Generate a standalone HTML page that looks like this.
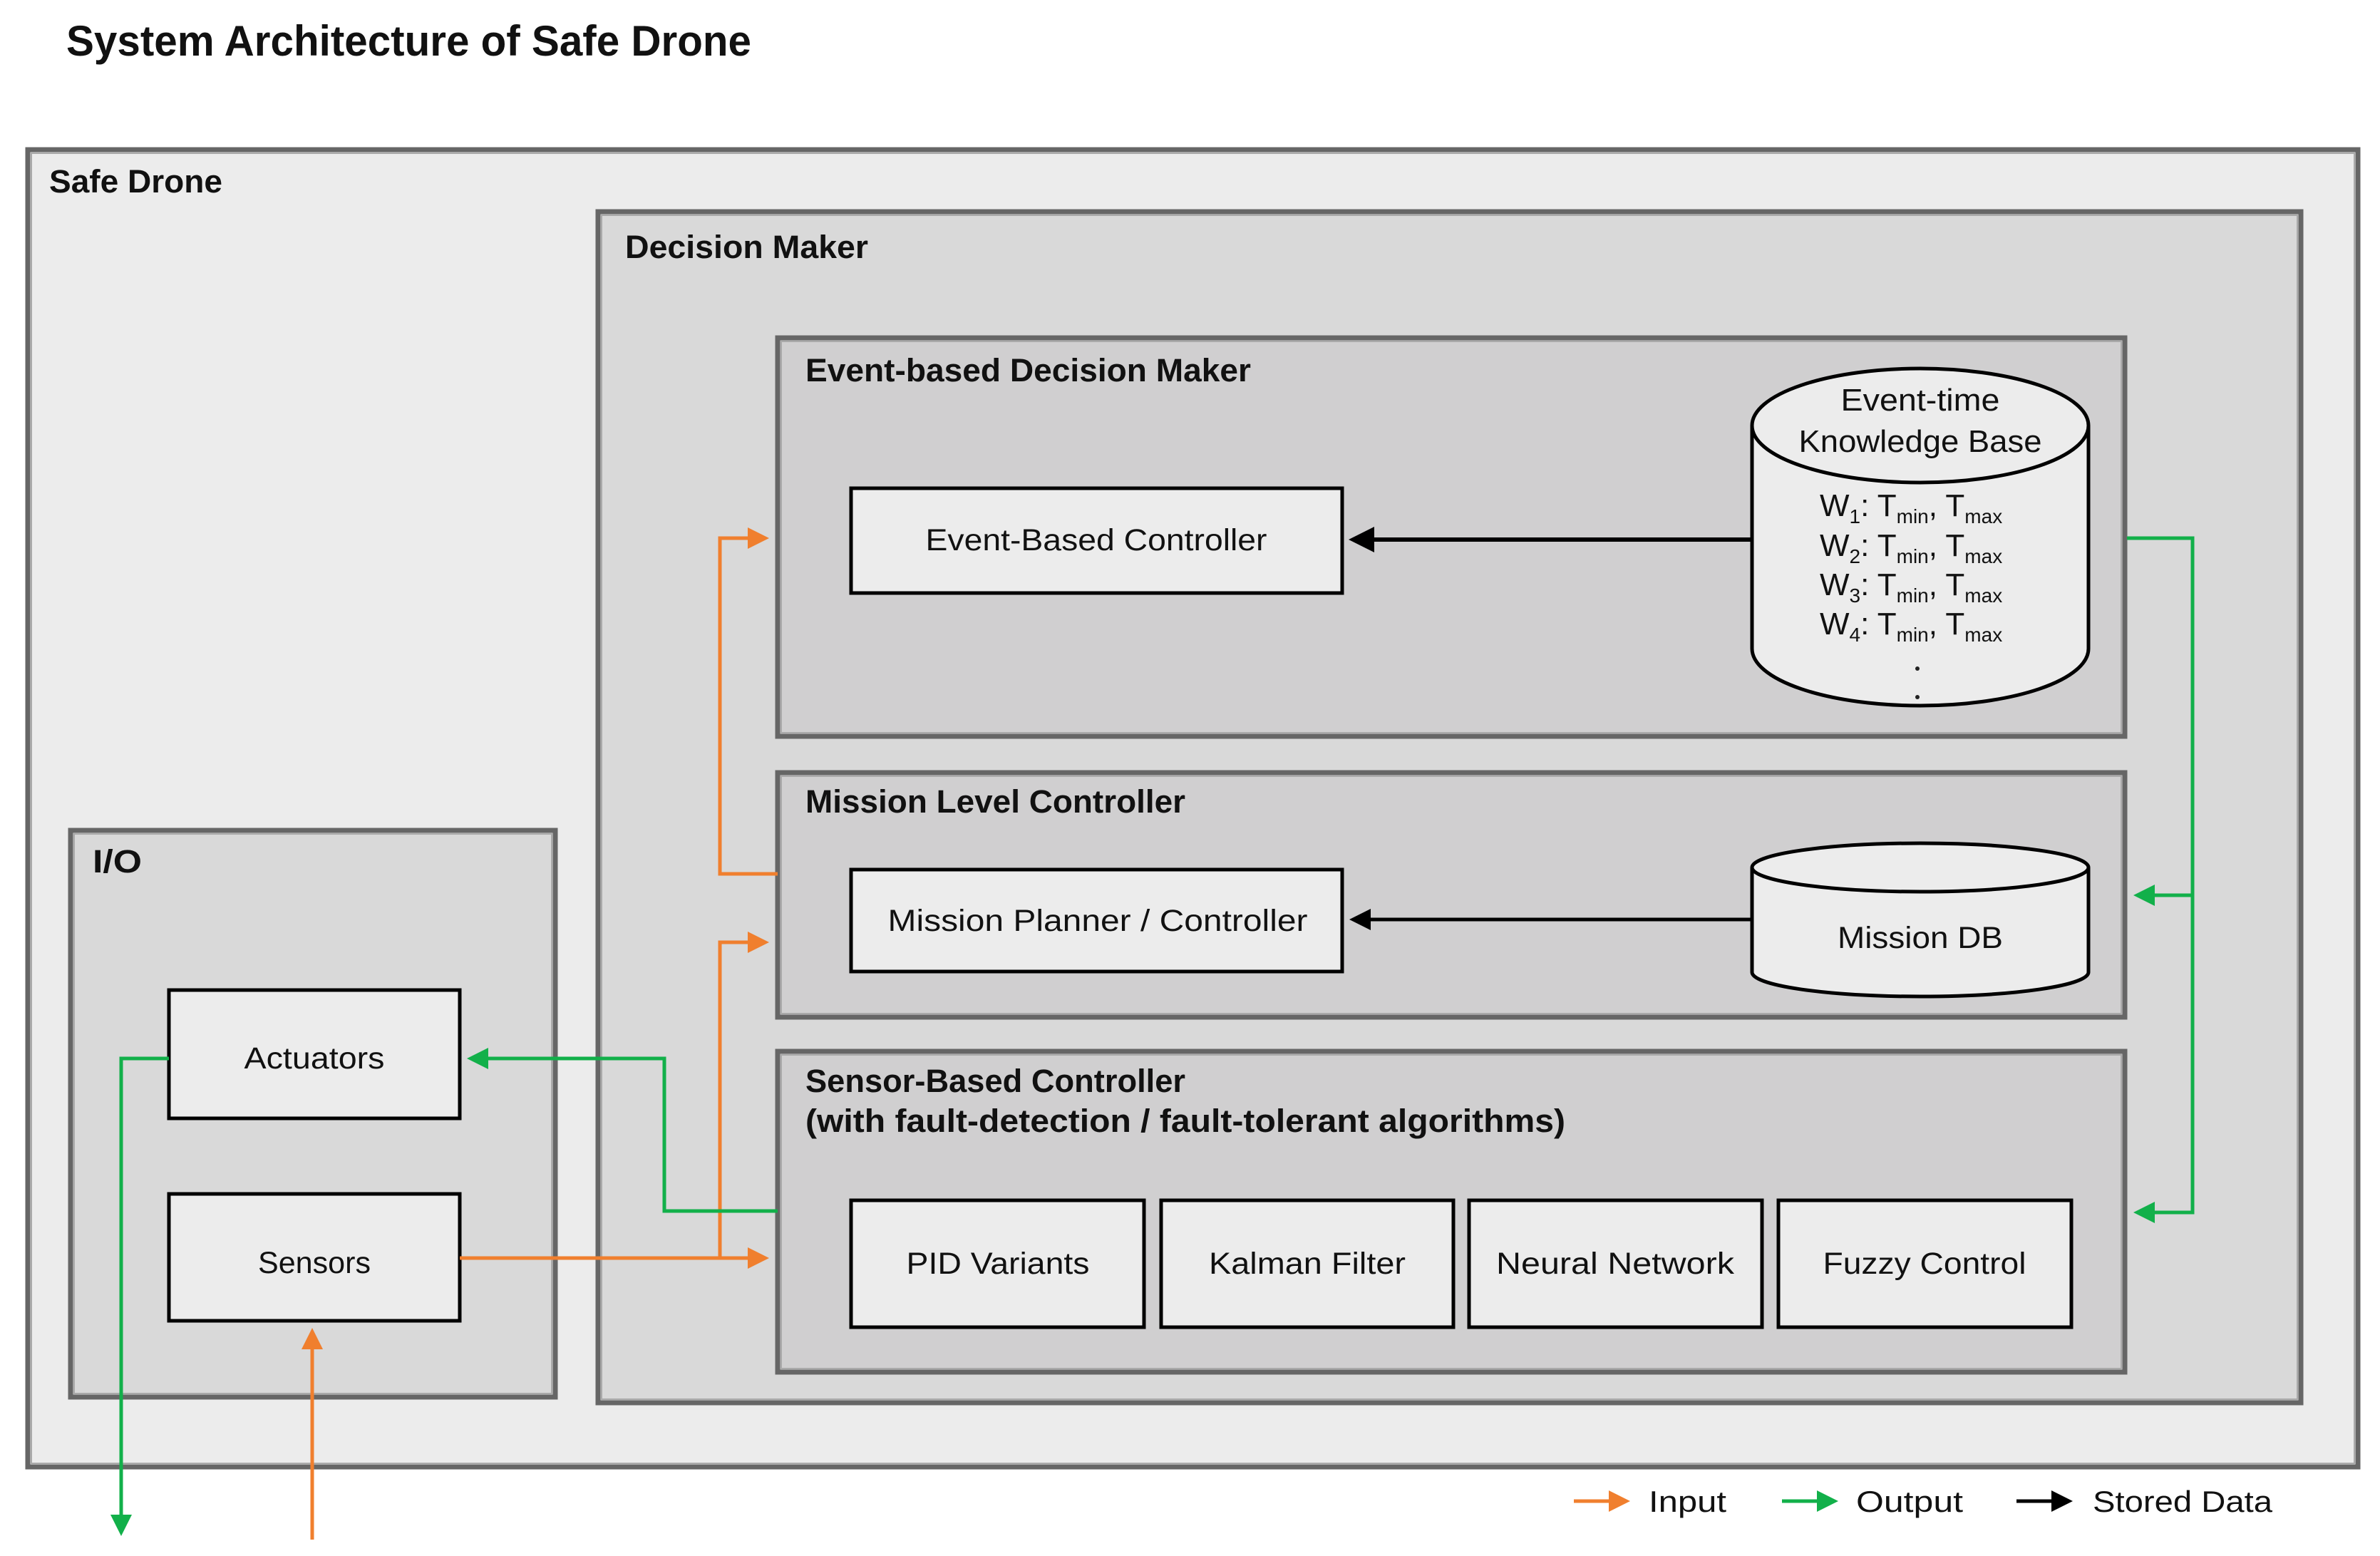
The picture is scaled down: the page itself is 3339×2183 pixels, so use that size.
<!DOCTYPE html>
<html><head><meta charset="utf-8"><style>
html,body{margin:0;padding:0;background:#fff}
svg{display:block}
text{font-family:"Liberation Sans",sans-serif;fill:#111}
.b{font-weight:bold}
</style></head><body>
<svg width="3339" height="2183" viewBox="0 0 3339 2183" xmlns="http://www.w3.org/2000/svg">
<defs>
<marker id="ao" markerWidth="6" markerHeight="6" refX="5" refY="3" orient="auto" markerUnits="strokeWidth"><path d="M0,0 L6,3 L0,6 z" fill="#f07f2e"/></marker>
<marker id="ag" markerWidth="6" markerHeight="6" refX="5" refY="3" orient="auto" markerUnits="strokeWidth"><path d="M0,0 L6,3 L0,6 z" fill="#12b04a"/></marker>
<marker id="ak" markerWidth="6" markerHeight="6" refX="5" refY="3" orient="auto" markerUnits="strokeWidth"><path d="M0,0 L6,3 L0,6 z" fill="#000"/></marker>
</defs>
<text x="93" y="78" font-size="60" class="b" textLength="961" lengthAdjust="spacingAndGlyphs">System Architecture of Safe Drone</text>

<rect x="39" y="210" width="3269" height="1848" fill="#ececec" stroke="#666" stroke-width="7"/>
<rect x="44" y="215" width="3259" height="1838" fill="none" stroke="#aaa" stroke-width="2"/>
<text x="69" y="270" font-size="45" class="b" textLength="243" lengthAdjust="spacingAndGlyphs">Safe Drone</text>

<rect x="839" y="297" width="2389" height="1671" fill="#d9d9d9" stroke="#666" stroke-width="7"/>
<rect x="844" y="302" width="2379" height="1661" fill="none" stroke="#aaa" stroke-width="2"/>
<text x="877" y="362" font-size="45" class="b" textLength="341" lengthAdjust="spacingAndGlyphs">Decision Maker</text>

<rect x="99" y="1165" width="680" height="795" fill="#d9d9d9" stroke="#666" stroke-width="7"/>
<rect x="104" y="1170" width="670" height="785" fill="none" stroke="#aaa" stroke-width="2"/>
<text x="130" y="1224" font-size="45" class="b" textLength="69" lengthAdjust="spacingAndGlyphs">I/O</text>

<rect x="1091" y="474" width="1890" height="559" fill="#d0cfd0" stroke="#666" stroke-width="7"/>
<rect x="1096" y="479" width="1880" height="549" fill="none" stroke="#aaa" stroke-width="2"/>
<text x="1130" y="535" font-size="45" class="b" textLength="625" lengthAdjust="spacingAndGlyphs">Event-based Decision Maker</text>

<rect x="1091" y="1084" width="1890" height="343" fill="#d0cfd0" stroke="#666" stroke-width="7"/>
<rect x="1096" y="1089" width="1880" height="333" fill="none" stroke="#aaa" stroke-width="2"/>
<text x="1130" y="1140" font-size="45" class="b" textLength="533" lengthAdjust="spacingAndGlyphs">Mission Level Controller</text>

<rect x="1091" y="1475" width="1890" height="450" fill="#d0cfd0" stroke="#666" stroke-width="7"/>
<rect x="1096" y="1480" width="1880" height="440" fill="none" stroke="#aaa" stroke-width="2"/>
<text x="1130" y="1532" font-size="45" class="b" textLength="533" lengthAdjust="spacingAndGlyphs">Sensor-Based Controller</text>
<text x="1130" y="1588" font-size="45" class="b" textLength="1066" lengthAdjust="spacingAndGlyphs">(with fault-detection / fault-tolerant algorithms)</text>

<g fill="#ececec" stroke="#000" stroke-width="5">
<rect x="1194" y="685" width="689" height="147"/>
<rect x="1194" y="1220" width="689" height="143"/>
<rect x="1194" y="1684" width="411" height="178"/>
<rect x="1629" y="1684" width="410" height="178"/>
<rect x="2061" y="1684" width="411" height="178"/>
<rect x="2495" y="1684" width="411" height="178"/>
<rect x="237" y="1389" width="408" height="180"/>
<rect x="237" y="1675" width="408" height="178"/>
</g>
<g font-size="43" text-anchor="middle">
<text x="1538" y="772" textLength="479" lengthAdjust="spacingAndGlyphs">Event-Based Controller</text>
<text x="1540" y="1306" textLength="589" lengthAdjust="spacingAndGlyphs">Mission Planner / Controller</text>
<text x="1400" y="1787" textLength="257" lengthAdjust="spacingAndGlyphs">PID Variants</text>
<text x="1834" y="1787" textLength="276" lengthAdjust="spacingAndGlyphs">Kalman Filter</text>
<text x="2266" y="1787" textLength="334" lengthAdjust="spacingAndGlyphs">Neural Network</text>
<text x="2700" y="1787" textLength="285" lengthAdjust="spacingAndGlyphs">Fuzzy Control</text>
<text x="441" y="1499" textLength="197" lengthAdjust="spacingAndGlyphs">Actuators</text>
<text x="441" y="1786" textLength="158" lengthAdjust="spacingAndGlyphs">Sensors</text>
</g>

<path d="M2458,597 L2458,910 A236,80 0 0 0 2930,910 L2930,597" fill="#ececec" stroke="#000" stroke-width="5"/>
<ellipse cx="2694" cy="597" rx="236" ry="80" fill="#ececec" stroke="#000" stroke-width="5"/>
<g font-size="44" text-anchor="middle">
<text x="2694" y="576" textLength="223" lengthAdjust="spacingAndGlyphs">Event-time</text>
<text x="2694" y="634" textLength="341" lengthAdjust="spacingAndGlyphs">Knowledge Base</text>
</g>
<g font-size="44">
<text x="2553" y="724">W<tspan font-size="28" dy="10">1</tspan><tspan dy="-10">: T</tspan><tspan font-size="28" dy="10">min</tspan><tspan dy="-10">, T</tspan><tspan font-size="28" dy="10">max</tspan></text>
<text x="2553" y="780">W<tspan font-size="28" dy="10">2</tspan><tspan dy="-10">: T</tspan><tspan font-size="28" dy="10">min</tspan><tspan dy="-10">, T</tspan><tspan font-size="28" dy="10">max</tspan></text>
<text x="2553" y="835">W<tspan font-size="28" dy="10">3</tspan><tspan dy="-10">: T</tspan><tspan font-size="28" dy="10">min</tspan><tspan dy="-10">, T</tspan><tspan font-size="28" dy="10">max</tspan></text>
<text x="2553" y="890">W<tspan font-size="28" dy="10">4</tspan><tspan dy="-10">: T</tspan><tspan font-size="28" dy="10">min</tspan><tspan dy="-10">, T</tspan><tspan font-size="28" dy="10">max</tspan></text>
</g>
<circle cx="2690" cy="938" r="3" fill="#222"/>
<circle cx="2690" cy="978" r="3" fill="#222"/>

<path d="M2458,1217 L2458,1364 A236,34 0 0 0 2930,1364 L2930,1217" fill="#ececec" stroke="#000" stroke-width="5"/>
<ellipse cx="2694" cy="1217" rx="236" ry="34" fill="#ececec" stroke="#000" stroke-width="5"/>
<text x="2694" y="1330" font-size="43" text-anchor="middle" textLength="232" lengthAdjust="spacingAndGlyphs">Mission DB</text>

<line x1="2458" y1="757" x2="1898" y2="757" stroke="#000" stroke-width="6" marker-end="url(#ak)"/>
<line x1="2458" y1="1290" x2="1898" y2="1290" stroke="#000" stroke-width="5" marker-end="url(#ak)"/>

<g fill="none" stroke="#f07f2e" stroke-width="5">
<polyline points="645,1765 1074,1765" marker-end="url(#ao)"/>
<polyline points="1010,1765 1010,1322 1074,1322" marker-end="url(#ao)"/>
<polyline points="1091,1226 1010,1226 1010,755 1074,755" marker-end="url(#ao)"/>
<polyline points="438,2160 438,1868" marker-end="url(#ao)"/>
</g>
<g fill="none" stroke="#12b04a" stroke-width="5">
<polyline points="1091,1699 932,1699 932,1485 660,1485" marker-end="url(#ag)"/>
<polyline points="237,1485 170,1485 170,2150" marker-end="url(#ag)"/>
<polyline points="2984,755 3076,755 3076,1701 2998,1701" marker-end="url(#ag)"/>
<polyline points="3076,1256 2998,1256" marker-end="url(#ag)"/>
</g>

<line x1="2208" y1="2106" x2="2282" y2="2106" stroke="#f07f2e" stroke-width="5" marker-end="url(#ao)"/>
<text x="2313" y="2121" font-size="42" textLength="109" lengthAdjust="spacingAndGlyphs">Input</text>
<line x1="2500" y1="2106" x2="2574" y2="2106" stroke="#12b04a" stroke-width="5" marker-end="url(#ag)"/>
<text x="2604" y="2121" font-size="42" textLength="150" lengthAdjust="spacingAndGlyphs">Output</text>
<line x1="2829" y1="2106" x2="2903" y2="2106" stroke="#000" stroke-width="5" marker-end="url(#ak)"/>
<text x="2936" y="2121" font-size="42" textLength="252" lengthAdjust="spacingAndGlyphs">Stored Data</text>
</svg>
</body></html>
